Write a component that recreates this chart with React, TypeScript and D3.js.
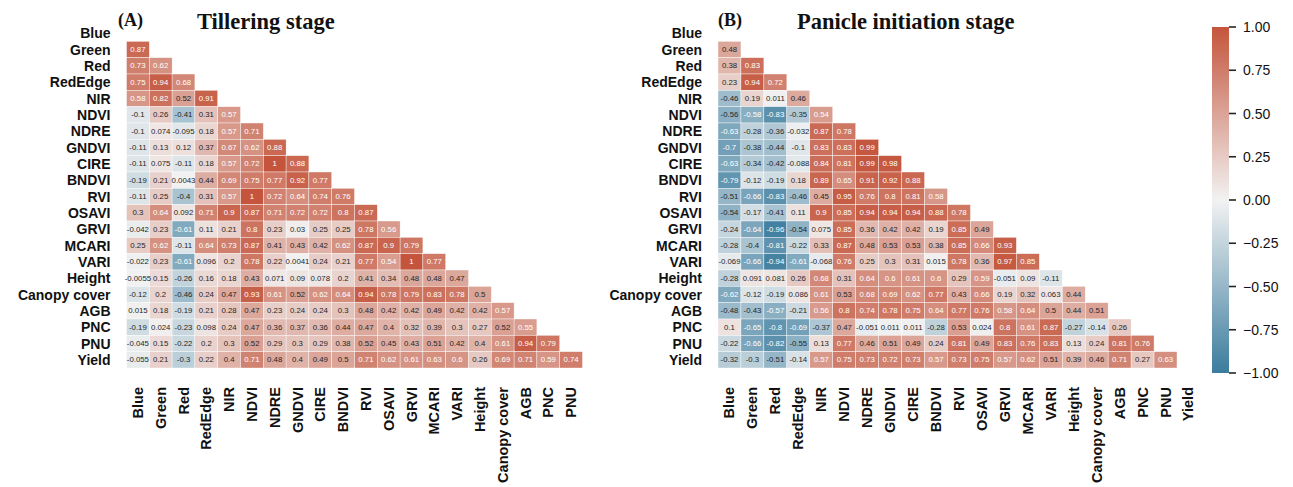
import React from "react";
import * as d3 from "d3";

const variables = [
  "Blue", "Green", "Red", "RedEdge", "NIR", "NDVI", "NDRE", "GNDVI", "CIRE", "BNDVI",
  "RVI", "OSAVI", "GRVI", "MCARI", "VARI", "Height", "Canopy cover", "AGB", "PNC", "PNU", "Yield",
];

// lower-triangle correlations, row i holds columns 0..i-1
const tilleringLower: number[][] = [
  [],
  [0.87],
  [0.73, 0.62],
  [0.75, 0.94, 0.68],
  [0.58, 0.82, 0.52, 0.91],
  [-0.1, 0.26, -0.41, 0.31, 0.57],
  [-0.1, 0.074, -0.095, 0.18, 0.57, 0.71],
  [-0.11, 0.13, 0.12, 0.37, 0.67, 0.62, 0.88],
  [-0.11, 0.075, -0.11, 0.18, 0.57, 0.72, 1, 0.88],
  [-0.19, 0.21, 0.0043, 0.44, 0.69, 0.75, 0.77, 0.92, 0.77],
  [-0.11, 0.25, -0.4, 0.31, 0.57, 1, 0.72, 0.64, 0.74, 0.76],
  [0.3, 0.64, 0.092, 0.71, 0.9, 0.87, 0.71, 0.72, 0.72, 0.8, 0.87],
  [-0.042, 0.23, -0.61, 0.11, 0.21, 0.8, 0.23, 0.03, 0.25, 0.25, 0.78, 0.56],
  [0.25, 0.62, -0.11, 0.64, 0.73, 0.87, 0.41, 0.43, 0.42, 0.62, 0.87, 0.9, 0.79],
  [-0.022, 0.23, -0.61, 0.096, 0.2, 0.78, 0.22, 0.0041, 0.24, 0.21, 0.77, 0.54, 1, 0.77],
  [-0.0055, 0.15, -0.26, 0.16, 0.18, 0.43, 0.071, 0.09, 0.078, 0.2, 0.41, 0.34, 0.48, 0.48, 0.47],
  [-0.12, 0.2, -0.46, 0.24, 0.47, 0.93, 0.61, 0.52, 0.62, 0.64, 0.94, 0.78, 0.79, 0.83, 0.78, 0.5],
  [0.015, 0.18, -0.19, 0.21, 0.28, 0.47, 0.23, 0.24, 0.24, 0.3, 0.48, 0.42, 0.42, 0.49, 0.42, 0.42, 0.57],
  [-0.19, 0.024, -0.23, 0.098, 0.24, 0.47, 0.36, 0.37, 0.36, 0.44, 0.47, 0.4, 0.32, 0.39, 0.3, 0.27, 0.52, 0.55],
  [-0.045, 0.15, -0.22, 0.2, 0.3, 0.52, 0.29, 0.3, 0.29, 0.38, 0.52, 0.45, 0.43, 0.51, 0.42, 0.4, 0.61, 0.94, 0.79],
  [-0.055, 0.21, -0.3, 0.22, 0.4, 0.71, 0.48, 0.4, 0.49, 0.5, 0.71, 0.62, 0.61, 0.63, 0.6, 0.26, 0.69, 0.71, 0.59, 0.74],
];

const panicleLower: number[][] = [
  [],
  [0.48],
  [0.38, 0.83],
  [0.23, 0.94, 0.72],
  [-0.46, 0.19, 0.011, 0.46],
  [-0.56, -0.58, -0.83, -0.35, 0.54],
  [-0.63, -0.28, -0.36, -0.032, 0.87, 0.78],
  [-0.7, -0.38, -0.44, -0.1, 0.83, 0.83, 0.99],
  [-0.63, -0.34, -0.42, -0.088, 0.84, 0.81, 0.99, 0.98],
  [-0.79, -0.12, -0.19, 0.18, 0.89, 0.65, 0.91, 0.92, 0.88],
  [-0.51, -0.66, -0.83, -0.46, 0.45, 0.95, 0.76, 0.8, 0.81, 0.58],
  [-0.54, -0.17, -0.41, 0.11, 0.9, 0.85, 0.94, 0.94, 0.94, 0.88, 0.78],
  [-0.24, -0.64, -0.96, -0.54, 0.075, 0.85, 0.36, 0.42, 0.42, 0.19, 0.85, 0.49],
  [-0.28, -0.4, -0.81, -0.22, 0.33, 0.87, 0.48, 0.53, 0.53, 0.38, 0.85, 0.66, 0.93],
  [-0.069, -0.66, -0.94, -0.61, -0.068, 0.76, 0.25, 0.3, 0.31, 0.015, 0.78, 0.36, 0.97, 0.85],
  [-0.28, 0.091, 0.081, 0.26, 0.68, 0.31, 0.64, 0.6, 0.61, 0.6, 0.29, 0.59, -0.051, 0.09, -0.11],
  [-0.62, -0.12, -0.19, 0.086, 0.61, 0.53, 0.68, 0.69, 0.62, 0.77, 0.43, 0.66, 0.19, 0.32, 0.063, 0.44],
  [-0.48, -0.43, -0.57, -0.21, 0.56, 0.8, 0.74, 0.78, 0.75, 0.64, 0.77, 0.76, 0.58, 0.64, 0.5, 0.44, 0.51],
  [0.1, -0.65, -0.8, -0.69, -0.37, 0.47, -0.051, 0.011, 0.011, -0.28, 0.53, 0.024, 0.8, 0.61, 0.87, -0.27, -0.14, 0.26],
  [-0.22, -0.66, -0.82, -0.55, 0.13, 0.77, 0.46, 0.51, 0.49, 0.24, 0.81, 0.49, 0.83, 0.76, 0.83, 0.13, 0.24, 0.81, 0.76],
  [-0.32, -0.3, -0.51, -0.14, 0.57, 0.75, 0.73, 0.72, 0.73, 0.57, 0.73, 0.75, 0.57, 0.62, 0.51, 0.39, 0.46, 0.71, 0.27, 0.63],
];

const tilleringXLabels = variables.slice(0, 20);
const panicleXLabels = variables.slice(0, 21);
const colorbarTicks = [1, 0.75, 0.5, 0.25, 0, -0.25, -0.5, -0.75, -1];

const SANS = "'Liberation Sans', Arial, sans-serif";
const SERIF = "'Liberation Serif', 'Times New Roman', serif";
const DARK = "#262626";

const color = d3
  .scaleLinear<string>()
  .domain([-1, 0, 1])
  .range(["#3b7c9e", "#f2f2f2", "#c4553c"])
  .interpolate(d3.interpolateRgb);

function textColor(v: number) {
  return v >= 0.54 || v <= -0.565 ? "#ffffff" : DARK;
}

type PanelProps = {
  left: number;
  colW: number;
  data: number[][];
  xLabels: string[];
  letter: string;
  letterX: number;
  title: string;
  titleX: number;
};

const TOP = 25;
const BOTTOM = 368;

function Panel({ left, colW, data, xLabels, letter, letterX, title, titleX }: PanelProps) {
  const x = d3.scaleBand<string>().domain(variables).range([left, left + colW * variables.length]);
  const y = d3.scaleBand<string>().domain(variables).range([TOP, BOTTOM]);
  const cells: { r: string; c: string; v: number }[] = [];
  data.forEach((row, i) => row.forEach((v, j) => cells.push({ r: variables[i], c: variables[j], v })));
  return (
    <g>
      <text x={letterX} y={26} fontFamily={SERIF} fontWeight="bold" fontSize={18} fill="#111">
        {letter}
      </text>
      <text x={titleX} y={29} fontFamily={SERIF} fontWeight="bold" fontSize={22.5} fill="#111">
        {title}
      </text>
      {cells.map((d) => (
        <rect
          key={d.r + "-" + d.c}
          x={x(d.c)}
          y={y(d.r)}
          width={x.bandwidth()}
          height={y.bandwidth()}
          fill={color(d.v)}
          stroke="#ffffff"
          strokeWidth={0.4}
        />
      ))}
      {cells.map((d) => (
        <text
          key={"t" + d.r + "-" + d.c}
          x={(x(d.c) as number) + x.bandwidth() / 2}
          y={(y(d.r) as number) + y.bandwidth() / 2}
          textAnchor="middle"
          dominantBaseline="central"
          fontFamily={SANS}
          fontSize={7.8}
          fill={textColor(d.v)}
        >
          {String(d.v)}
        </text>
      ))}
      {variables.map((v) => (
        <text
          key={"row" + v}
          x={left - 16}
          y={(y(v) as number) + y.bandwidth() / 2}
          textAnchor="end"
          dominantBaseline="central"
          fontFamily={SANS}
          fontWeight="bold"
          fontSize={14}
          fill="#111"
        >
          {v}
        </text>
      ))}
      {xLabels.map((v) => (
        <text
          key={"col" + v}
          transform={`translate(${(x(v) as number) + x.bandwidth() / 2},${BOTTOM + 19}) rotate(-90)`}
          textAnchor="end"
          dominantBaseline="central"
          fontFamily={SANS}
          fontWeight="bold"
          fontSize={14.5}
          fill="#111"
        >
          {v}
        </text>
      ))}
    </g>
  );
}

function Colorbar() {
  const x0 = 1212;
  const w = 17;
  const yScale = d3.scaleLinear().domain([-1, 1]).range([373, 27]);
  const stops = d3.range(0, 21).map((i) => -1 + i * 0.1);
  const fmt = d3.format(".2f");
  return (
    <g>
      <defs>
        <linearGradient id="cbar" x1="0" y1="1" x2="0" y2="0">
          {stops.map((s) => (
            <stop key={s} offset={`${((s + 1) / 2) * 100}%`} stopColor={color(s)} />
          ))}
        </linearGradient>
      </defs>
      <rect x={x0} y={yScale(1)} width={w} height={yScale(-1) - yScale(1)} fill="url(#cbar)" />
      {colorbarTicks.map((t) => (
        <g key={t}>
          <line x1={x0 + w} x2={x0 + w + 7} y1={yScale(t)} y2={yScale(t)} stroke={DARK} strokeWidth={1.6} />
          <text
            x={x0 + w + 14}
            y={yScale(t)}
            dominantBaseline="central"
            fontFamily={SANS}
            fontSize={14}
            fill="#111"
          >
            {fmt(t)}
          </text>
        </g>
      ))}
    </g>
  );
}

export default function App() {
  return (
    <svg
      width={1293}
      height={487}
      style={{ position: "absolute", left: 0, top: 0, background: "#ffffff" }}
    >
      <rect x={0} y={0} width={1293} height={487} fill="#ffffff" />
      <Panel
        left={126.5}
        colW={22.8}
        data={tilleringLower}
        xLabels={tilleringXLabels}
        letter="(A)"
        letterX={118}
        title="Tillering stage"
        titleX={197}
      />
      <Panel
        left={718}
        colW={22.95}
        data={panicleLower}
        xLabels={panicleXLabels}
        letter="(B)"
        letterX={718}
        title="Panicle initiation stage"
        titleX={797}
      />
      <Colorbar />
    </svg>
  );
}
